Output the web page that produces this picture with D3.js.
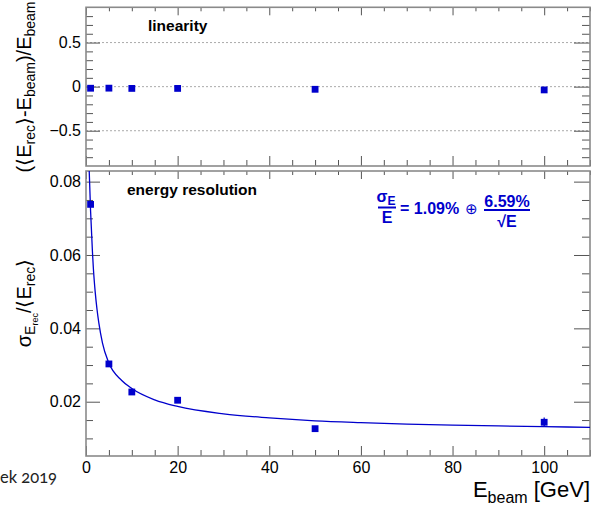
<!DOCTYPE html>
<html>
<head>
<meta charset="utf-8">
<script src="https://cdn.jsdelivr.net/npm/d3@7"></script>
<style>
  body { margin: 0; background: #fff; }
  svg { display: block; font-family: "Liberation Sans", Arial, sans-serif; }
  .tick text { font-size: 16px; fill: #000; }
  .tick line { stroke: #555; }
</style>
</head>
<body>
<div id="chart"></div>
<script>
// beam energies (GeV) and measured points
const beamEnergy = [1, 5, 10, 20, 50, 100];
const linearity = [-0.018, -0.017, -0.02, -0.02, -0.03, -0.037];
const resolution = [0.0738, 0.0303, 0.02265, 0.0204, 0.01265, 0.0144];
const resolutionErr = [0.0006, 0.0003, 0.0003, 0.0003, 0.0003, 0.0013];

// fit curve
const fitE = [0.62, 0.7, 1.0, 1.4, 1.6, 2.0, 2.4, 2.8, 3.6, 4.9, 7.8, 10, 15, 20, 30, 40, 50, 60, 70, 80, 90, 100, 110];
const fitRes = [0.0865, 0.083, 0.072, 0.061, 0.0565, 0.0500, 0.0452, 0.0415, 0.0360, 0.0308, 0.0258, 0.0236, 0.0205, 0.0187, 0.0167, 0.0156, 0.0148, 0.0143, 0.0139, 0.0136, 0.0134, 0.0132, 0.0130];

// tick labels
const xTicks = [0, 20, 40, 60, 80, 100];
const linTicks = [-0.5, 0, 0.5];
const linLabels = ["\u22120.5", "0", "0.5"];
const resTicks = [0.02, 0.04, 0.06, 0.08];
const resLabels = ["0.02", "0.04", "0.06", "0.08"];

const W = 592, H = 505;
const left = 86, right = 590;
const top1 = 7.3, bot1 = 166;
const top2 = 171, bot2 = 456;
const blue = "#0000cc";

const svg = d3.select("#chart").append("svg")
  .attr("width", W).attr("height", H);

const x = d3.scaleLinear().domain([0, 110]).range([left, right]);
const yLin = d3.scaleLinear().domain([-0.9, 0.9]).range([bot1, top1]);
const yRes = d3.scaleLinear().domain([0.0052, 0.0829]).range([bot2, top2]);

const xMinor = d3.range(0, 111, 5).filter(v => v % 20 !== 0);

// ---- axes helper
function drawAxes(y, yTop, yBot, majors, labels, minors, xLabels) {
  const g = svg.append("g");
  // left
  g.append("g").attr("transform", `translate(${left},0)`)
    .call(d3.axisLeft(y).tickValues(majors).tickSize(-14).tickPadding(5)
      .tickFormat((d, i) => labels[i]));
  g.append("g").attr("transform", `translate(${left},0)`)
    .call(d3.axisLeft(y).tickValues(minors).tickSize(-7).tickFormat(""));
  // right
  g.append("g").attr("transform", `translate(${right},0)`)
    .call(d3.axisRight(y).tickValues(majors).tickSize(-16).tickFormat(""));
  g.append("g").attr("transform", `translate(${right},0)`)
    .call(d3.axisRight(y).tickValues(minors).tickSize(-8).tickFormat(""));
  // bottom
  const bAxis = d3.axisBottom(x).tickValues(xTicks).tickSize(-10).tickPadding(6);
  if (!xLabels) bAxis.tickFormat("");
  g.append("g").attr("transform", `translate(0,${yBot})`).call(bAxis);
  g.append("g").attr("transform", `translate(0,${yBot})`)
    .call(d3.axisBottom(x).tickValues(xMinor).tickSize(-6).tickFormat(""));
  // top
  g.append("g").attr("transform", `translate(0,${yTop})`)
    .call(d3.axisTop(x).tickValues(xTicks).tickSize(-8).tickFormat(""));
  g.append("g").attr("transform", `translate(0,${yTop})`)
    .call(d3.axisTop(x).tickValues(xMinor).tickSize(-4).tickFormat(""));
  g.selectAll(".domain").remove();
  // frame
  g.append("rect")
    .attr("x", left).attr("y", yTop)
    .attr("width", right - left).attr("height", yBot - yTop)
    .attr("fill", "none").attr("stroke", "#8a8a8a").attr("stroke-width", 1.6);
}

// ---- upper panel: linearity
svg.append("g").selectAll("line.grid")
  .data(linTicks).join("line")
  .attr("x1", left).attr("x2", right)
  .attr("y1", d => yLin(d)).attr("y2", d => yLin(d))
  .attr("stroke", "#aaa").attr("stroke-width", 1)
  .attr("stroke-dasharray", "2,2");

drawAxes(yLin, top1, bot1, linTicks, linLabels, d3.range(-0.8, 0.81, 0.1).filter(v => Math.abs(v * 2 - Math.round(v * 2)) > 0.01), false);

svg.append("g").selectAll("rect")
  .data(beamEnergy).join("rect")
  .attr("x", d => x(d) - 3.4)
  .attr("y", (d, i) => yLin(linearity[i]) - 3.4)
  .attr("width", 6.8).attr("height", 6.8)
  .attr("fill", blue);

svg.append("text")
  .attr("x", 148).attr("y", 31)
  .attr("font-size", 15.5).attr("font-weight", "bold")
  .text("linearity");

// upper y title
const t1 = svg.append("text")
  .attr("transform", "translate(31,87) rotate(-90)")
  .attr("text-anchor", "middle")
  .attr("font-size", 20);
t1.append("tspan").text("(\u27E8E");
t1.append("tspan").attr("dy", 4).attr("font-size", 14).text("rec");
t1.append("tspan").attr("dy", -4).text("\u27E9-E");
t1.append("tspan").attr("dy", 4).attr("font-size", 14).text("beam");
t1.append("tspan").attr("dy", -4).text(")/E");
t1.append("tspan").attr("dy", 4).attr("font-size", 14).text("beam");

// ---- lower panel: energy resolution
drawAxes(yRes, top2, bot2, resTicks, resLabels, d3.range(0.01, 0.081, 0.005).filter(v => Math.abs(v * 50 - Math.round(v * 50)) > 0.01), true);

svg.append("clipPath").attr("id", "clip2")
  .append("rect").attr("x", left).attr("y", top2)
  .attr("width", right - left).attr("height", bot2 - top2);

const fitData = fitE.map((e, i) => ({ e: e, r: fitRes[i] }));
svg.append("path")
  .datum(fitData)
  .attr("clip-path", "url(#clip2)")
  .attr("fill", "none")
  .attr("stroke", blue)
  .attr("stroke-width", 1.3)
  .attr("d", d3.line().curve(d3.curveMonotoneX)
    .x(d => x(d.e)).y(d => yRes(d.r)));

svg.append("g").selectAll("line")
  .data(beamEnergy).join("line")
  .attr("x1", d => x(d)).attr("x2", d => x(d))
  .attr("y1", (d, i) => yRes(resolution[i] - resolutionErr[i]))
  .attr("y2", (d, i) => yRes(resolution[i] + resolutionErr[i]))
  .attr("stroke", blue).attr("stroke-width", 1.2);

svg.append("g").selectAll("rect")
  .data(beamEnergy).join("rect")
  .attr("x", d => x(d) - 3.4)
  .attr("y", (d, i) => yRes(resolution[i]) - 3.4)
  .attr("width", 6.8).attr("height", 6.8)
  .attr("fill", blue);

svg.append("text")
  .attr("x", 127).attr("y", 195)
  .attr("font-size", 15.5).attr("font-weight", "bold")
  .text("energy resolution");

// fit formula
const fg = svg.append("g").attr("fill", blue).attr("font-weight", "bold").attr("font-size", 16);
const num1 = fg.append("text").attr("x", 386).attr("y", 202).attr("text-anchor", "middle");
num1.append("tspan").text("\u03C3");
num1.append("tspan").attr("dy", 3).attr("font-size", 12).text("E");
fg.append("line").attr("x1", 378).attr("x2", 396).attr("y1", 207.5).attr("y2", 207.5)
  .attr("stroke", blue).attr("stroke-width", 2);
fg.append("text").attr("x", 387).attr("y", 222.5).attr("text-anchor", "middle").text("E");
fg.append("text").attr("x", 400).attr("y", 213.5).text("= 1.09%");
fg.append("text").attr("x", 471.5).attr("y", 213.5).attr("text-anchor", "middle")
  .attr("font-weight", "normal").attr("font-size", 15).text("\u2295");
fg.append("text").attr("x", 507).attr("y", 207).attr("text-anchor", "middle").text("6.59%");
fg.append("line").attr("x1", 484).attr("x2", 530).attr("y1", 210).attr("y2", 210)
  .attr("stroke", blue).attr("stroke-width", 2);
fg.append("text").attr("x", 507).attr("y", 226.5).attr("text-anchor", "middle").text("\u221AE");

// lower y title
const t2 = svg.append("text")
  .attr("transform", "translate(31,303) rotate(-90)")
  .attr("text-anchor", "middle")
  .attr("font-size", 20);
t2.append("tspan").text("\u03C3");
t2.append("tspan").attr("dy", 4).attr("font-size", 14).text("E");
t2.append("tspan").attr("dy", 3).attr("font-size", 9).text("rec");
t2.append("tspan").attr("dy", -7).text("/\u27E8E");
t2.append("tspan").attr("dy", 4).attr("font-size", 14).text("rec");
t2.append("tspan").attr("dy", -4).text("\u27E9");

// x title
const xt = svg.append("text")
  .attr("x", 590).attr("y", 497)
  .attr("text-anchor", "end")
  .attr("font-size", 22);
xt.append("tspan").text("E");
xt.append("tspan").attr("dy", 6).attr("font-size", 16).text("beam");
xt.append("tspan").attr("dy", -6).text(" [GeV]");

// partial credit line at lower left
svg.append("text")
  .attr("x", 0).attr("y", 483)
  .attr("font-family", "Lato, 'Open Sans', sans-serif")
  .attr("font-size", 16.5)
  .style("font-feature-settings", "'onum' 1")
  .attr("fill", "#222")
  .text("ek 2019");
</script>
</body>
</html>
